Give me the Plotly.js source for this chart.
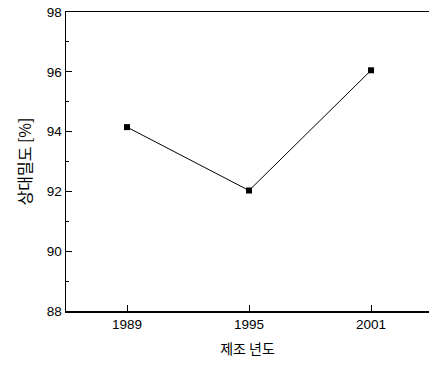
<!DOCTYPE html>
<html>
<head>
<meta charset="utf-8">
<script src="https://cdn.plot.ly/plotly-3.0.1.min.js"></script>
<style>html,body{margin:0;padding:0;background:#fff;}#chart{width:429px;height:366px;}</style>
</head>
<body>
<div id="chart"></div>
<script>
const years = [1989, 1995, 2001];
const density = [94.15, 92.03, 96.05];
const xTickVals = [1989, 1995, 2001];
const xTickText = ['1989', '1995', '2001'];
const yTickVals = [88, 90, 92, 94, 96, 98];
const xTitle = '제조 년도';
const yTitle = '상대밀도 [%]';

const trace = {
  x: years, y: density, type: 'scatter', mode: 'lines+markers',
  line: {color: '#000', width: 1},
  marker: {symbol: 'square', size: 6, color: '#000'},
  hoverinfo: 'skip'
};

const layout = {
  width: 429, height: 366,
  margin: {l: 66, r: 0, t: 12, b: 55},
  paper_bgcolor: '#fff', plot_bgcolor: '#fff',
  showlegend: false,
  font: {family: 'Liberation Sans, Arial, sans-serif', color: '#000', size: 13},
  xaxis: {
    range: [1986, 2003.85], showgrid: false, zeroline: false,
    showline: true, linecolor: '#000', linewidth: 1.5, mirror: true,
    ticks: 'inside', ticklen: 6, tickcolor: '#000', tickwidth: 1,
    tickvals: xTickVals, ticktext: xTickText,
    tickfont: {size: 13.5, family: 'Liberation Sans, Arial, sans-serif'},
    title: {text: xTitle, font: {size: 14, family: 'Noto Sans CJK KR'}, standoff: 13}
  },
  yaxis: {
    range: [88, 98], showgrid: false, zeroline: false,
    showline: true, linecolor: '#000', linewidth: 1.5,
    ticks: 'inside', ticklen: 6, tickcolor: '#000', tickwidth: 1,
    tickvals: yTickVals,
    minor: {dtick: 1, tick0: 89, ticks: 'inside', ticklen: 3, tickcolor: '#000', showgrid: false},
    tickfont: {size: 13.5, family: 'Liberation Sans, Arial, sans-serif'},
    title: {text: yTitle, font: {size: 16, family: 'Noto Sans CJK KR'}, standoff: 11}
  }
};

Plotly.newPlot('chart', [trace], layout, {staticPlot: true, displayModeBar: false});
</script>
</body>
</html>
